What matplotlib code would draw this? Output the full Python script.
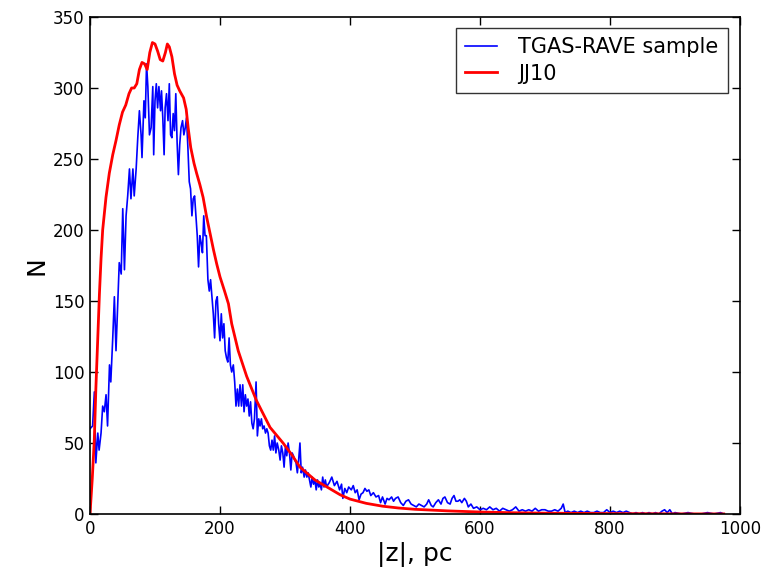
import matplotlib
matplotlib.use("Agg")
import matplotlib.pyplot as plt

# ---- TGAS-RAVE sample (blue) ----
z_blue = [0, 4, 6.7, 9, 12, 14, 17, 19.5, 22, 24.7, 27, 30, 32, 35, 37.5, 40, 42.7, 45, 48, 50.4,
          53, 55.5, 58, 60.7, 63, 66, 68, 71, 73.5, 76, 78.6, 80, 83, 85, 87, 89, 91.5, 94, 96.6, 98,
          100, 102, 104, 106, 108.5, 110, 112, 114, 115.6, 117.7, 120, 122, 124, 126, 128, 130, 132,
          134, 136, 138, 140, 142.4, 144.4, 146.5, 148.5, 150.6, 152.7, 154.7, 156.8, 158.8, 160.9,
          163, 165, 167, 169, 171, 173, 175, 177, 179,
          181.4, 183.5, 185.5, 187.6, 189.7, 191.7, 193.8, 195.8, 197.9, 200, 202, 204, 206, 208, 210,
          212, 214, 216, 218, 220.5, 222.6, 224.6, 226.7, 228.7, 230.8, 233, 235, 237, 239, 241, 243,
          245, 247, 249, 251, 253, 255.5, 257.5, 259.6, 261.6, 263.7, 265.7, 267.8, 270, 272, 274, 276,
          278, 280, 282, 284, 286, 288, 290.4, 292.5, 294.5, 296.6, 298.6, 300.7, 302.7, 304.8, 306.9,
          309, 311, 313, 315, 317, 319, 321, 323, 325, 327, 329.5, 331.5, 333.6, 335.6, 337.7, 339.8,
          341.8, 343.9, 346, 348, 350, 352, 354, 356, 358, 360, 362, 364, 366.5,
          368, 372, 376, 380, 384, 387, 389, 392, 395, 398, 402, 405, 408, 411, 414, 417, 420, 423, 426,
          429, 432, 436, 440, 444, 447, 450, 454, 457, 460, 464, 467, 470, 474, 478, 482, 486, 490, 494,
          498, 502, 506, 510, 514, 518, 521, 525, 528, 532, 536, 540, 543, 546, 550, 554, 557, 560, 563,
          566, 569, 572, 576, 579, 582, 586, 590, 595, 600, 605, 610, 615, 620, 625, 630, 635, 640, 645,
          650, 655, 660, 665, 670, 675, 680, 685, 690, 695, 700, 705, 710, 715, 720, 725, 728, 731, 735,
          740, 745, 750, 755, 760, 765, 770, 775, 780, 785, 790, 795, 800, 805, 810, 815, 820, 825, 830,
          835, 840, 845, 850, 855, 860, 865, 870, 875, 880, 884, 888, 892, 896, 900, 910, 920, 930, 940,
          950, 960, 970, 975]
n_blue = [60, 62, 86, 36, 57, 45, 57, 76, 72, 84, 62, 105, 93, 124, 153, 115, 148, 177, 169, 215,
          172, 210, 224, 243, 222, 243, 224, 243, 265, 284, 267, 251, 291, 279, 317, 301, 267, 272, 301, 253,
          291, 303, 286, 301, 284, 298, 279, 253, 286, 296, 277, 303, 267, 265, 282, 270, 296,
          262, 239, 260, 272, 277, 267, 272, 279, 258, 234, 229, 210, 222, 224,
          210, 196, 174, 196, 191, 184, 210, 196, 196,
          165, 157, 165, 153, 141, 124, 150, 153, 134, 122, 141, 124, 134, 115, 110,
          107, 124, 105, 100, 105, 93, 76, 88, 76, 91, 76, 91, 72, 84, 76, 81,
          69, 79, 64, 60, 67, 93, 55, 67, 62, 67, 60, 62, 57, 60, 57, 48,
          45, 52, 45, 55, 43, 50, 45, 38, 48, 43, 33, 48, 41, 50, 43,
          31, 43, 41, 38, 36, 29, 38, 50, 29, 33, 26, 31, 26, 29, 24, 19,
          26, 21, 24, 17, 24, 19, 21, 17, 26, 19, 24, 19, 21,
          22, 26, 20, 23, 17, 21, 11, 18, 15, 19, 17, 20, 15, 17, 10, 14, 15, 18, 16,
          17, 13, 15, 12, 13, 8, 12, 7, 11, 10, 12, 9, 11, 12, 8, 6, 9, 10, 7,
          6, 5, 7, 6, 5, 7, 10, 6, 5, 8, 10, 7, 11, 12, 8, 7, 11, 13, 9,
          9, 10, 8, 11, 9, 5, 7, 4, 5, 3, 4, 3, 5, 3, 4, 2, 4, 3, 2,
          3, 5, 2, 3, 2, 3, 2, 4, 2, 3, 3, 2, 2, 3, 2, 4, 7, 1, 2,
          1, 2, 1, 2, 1, 2, 1, 1, 2, 1, 1, 3, 1, 2, 1, 2, 1, 2, 1,
          0, 1, 0, 1, 0, 1, 0, 1, 0, 2, 3, 1, 3, 0, 1, 0, 1, 0, 0,
          1, 0, 1, 0]

# ---- JJ10 model (red) ----
z_red = [0, 3.5, 6.6, 9, 11.8, 14.5, 17, 19.5, 24.6, 29.7, 35, 40, 45, 50, 55, 60, 64, 68, 72, 76,
         80, 84, 88, 92, 96, 100, 104, 108, 112, 116, 119, 122, 126, 130, 134, 138, 144, 148, 151, 155,
         160, 164, 169, 174, 179.5, 185, 190, 195, 200, 207, 213, 218, 228, 241, 256, 277, 297, 310, 323,
         346, 366.5, 385, 400, 425, 450, 475, 500, 550, 600, 650, 700, 800, 900, 975]
n_red = [0, 25, 52, 88, 122, 155, 180, 200, 223, 240, 253, 263, 274, 283, 288, 296, 300, 300, 303, 313,
         318, 317, 313, 325, 332, 331, 326, 320, 319, 325, 331, 329, 322, 310, 302, 298, 293, 285, 272, 258,
         247, 240, 232, 223, 209, 197, 186, 176, 167, 157, 148, 134, 115, 97, 80, 61, 50, 42, 33,
         24, 18.5, 13.5, 10.5, 7.5, 5.5, 4.2, 3.3, 2.2, 1.4, 0.9, 0.6, 0.3, 0.1, 0.05]

x_ticks = [0, 200, 400, 600, 800, 1000]
y_ticks = [0, 50, 100, 150, 200, 250, 300, 350]

W, H = 766, 573
fig = plt.figure(figsize=(W / 100, H / 100), dpi=100)
ax = fig.add_axes([90 / W, 59 / H, 650 / W, 497 / H])

ax.plot(z_blue, n_blue, color="#0000ff", lw=1.2, label="TGAS-RAVE sample")
ax.plot(z_red, n_red, color="#ff0000", lw=2.0, label="JJ10")

ax.set_xlim(0, 1000)
ax.set_ylim(0, 350)
ax.set_xticks(x_ticks)
ax.set_yticks(y_ticks)
ax.tick_params(direction="in", top=True, right=True, length=6, width=1,
               labelsize=12, pad=4)
for s in ax.spines.values():
    s.set_linewidth(1.2)

ax.set_xlabel("|z|, pc", fontsize=18, labelpad=3)
ax.set_ylabel("N", fontsize=18, labelpad=3)

leg = ax.legend(loc="upper right", bbox_to_anchor=(1 - 12 / 650, 1 - 11 / 497),
                borderaxespad=0, fontsize=15, fancybox=False, frameon=True,
                handlelength=1.5, handletextpad=1.05, borderpad=0.45, labelspacing=0.3)
leg.get_frame().set_edgecolor("black")
leg.get_frame().set_linewidth(1.0)

fig.savefig("out.png", dpi=100, facecolor="white")
